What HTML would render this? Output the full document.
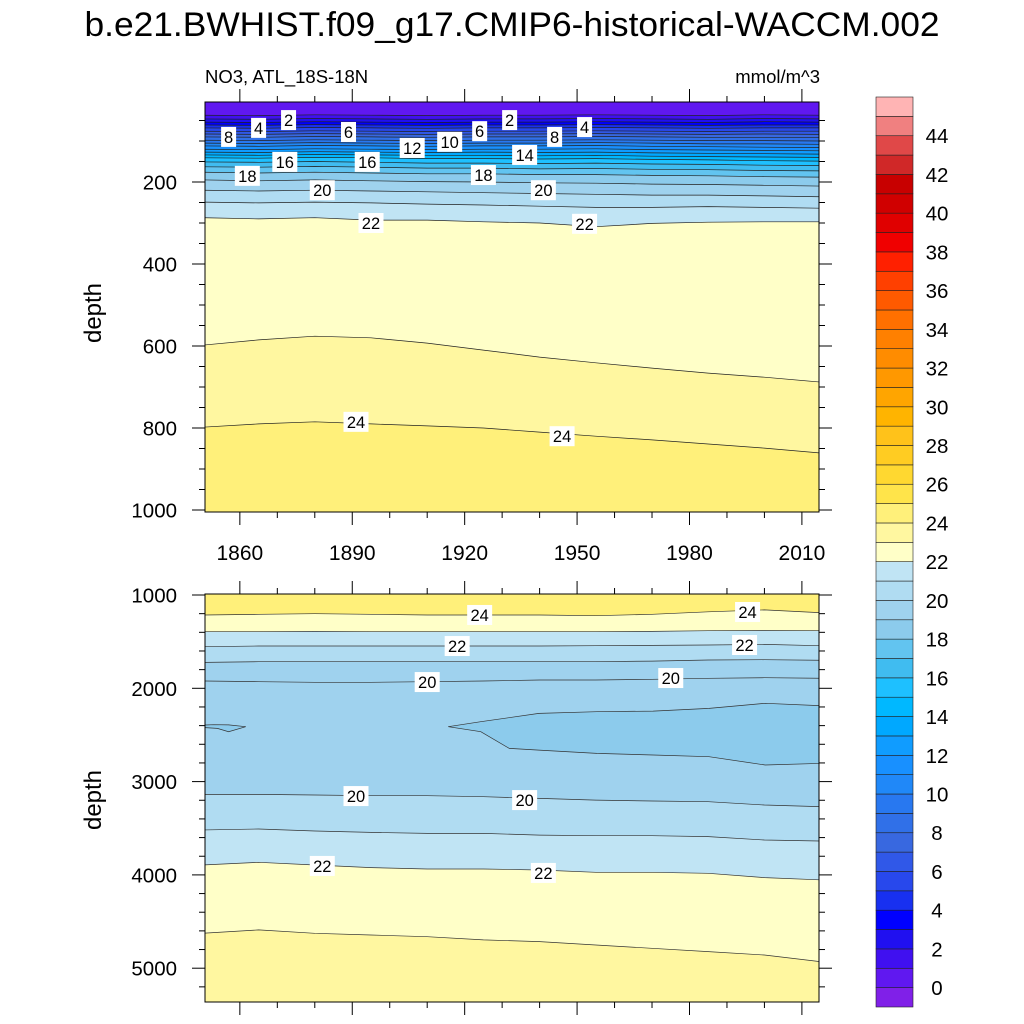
<!DOCTYPE html>
<html><head><meta charset="utf-8"><style>
html,body{margin:0;padding:0;background:#fff}
svg{display:block}
text{font-family:"Liberation Sans",sans-serif;fill:#000}
</style></head><body>
<svg id="chart" width="1024" height="1024" viewBox="0 0 1024 1024" xmlns="http://www.w3.org/2000/svg">
<text x="512" y="36" font-size="34" text-anchor="middle" textLength="855" lengthAdjust="spacingAndGlyphs">b.e21.BWHIST.f09_g17.CMIP6-historical-WACCM.002</text>
<text x="205" y="83" font-size="18.5">NO3, ATL_18S-18N</text>
<text x="820" y="83" font-size="18.5" text-anchor="end">mmol/m^3</text>
<text transform="translate(101,313) rotate(-90)" font-size="24" text-anchor="middle">depth</text>
<text transform="translate(101,800) rotate(-90)" font-size="24" text-anchor="middle">depth</text>
<defs>
<clipPath id="clipTop"><rect x="205" y="102" width="614" height="410"/></clipPath>
<clipPath id="clipBot"><rect x="205" y="594" width="614" height="408"/></clipPath>
</defs>
<g id="gTop" clip-path="url(#clipTop)"></g>
<g id="gBot" clip-path="url(#clipBot)"></g>
<g id="gAxes"></g>
<g id="gLabels"></g>
<g id="gBar"></g>
</svg>
<script>
// ---- data ----
const years = [1850,1865,1880,1895,1910,1925,1940,1955,1970,1985,2000,2015];
const xTicks = [1860,1890,1920,1950,1980,2010];
const topDepthTicks = [200,400,600,800,1000];
const botDepthTicks = [1000,2000,3000,4000,5000];
const barLabels = [0,2,4,6,8,10,12,14,16,18,20,22,24,26,28,30,32,34,36,38,40,42,44];
const palette = ["#8020e8","#6018f0","#4010f0","#2010f0","#0000ff","#1830f0","#2848ec","#3058e8","#3868e0","#3070e8","#2878f0","#2088f8","#1890ff","#109cff","#00a8ff","#00b8ff","#1ec0ff","#40bcf0","#62c4f0","#8ccbec","#9fd2ee","#b0dcf2","#c0e4f4","#ffffc8","#fff7a0","#fff07a","#ffe44a","#ffd830","#ffcc22","#ffc21a","#ffb400","#ffa500","#ff9800","#ff8c00","#ff8000","#ff7000","#ff5a00","#ff4000","#ff2000","#f00000","#e00000","#d00000","#c80000","#d02828","#e04848","#f08080","#ffb4b4"];
// top panel contour values and depths (m) at each year
const topLevels = [1,2,3,4,5,6,7,8,9,10,11,12,13,14,15,16,17,18,19,20,21,22,23,24];
const topDepths = [
[37,38,36,37,38,37,37,36,37,38,36,37],
[46,47,45,46,47,46,46,45,46,47,45,46],
[54,55,53,54,55,54,54,53,54,55,53,54],
[61,62,60,61,62,61,61,60,61,62,61,61],
[68,69,67,68,69,68,68,67,68,69,68,68],
[76,77,75,76,77,76,76,75,76,77,76,76],
[83,84,82,83,84,83,83,82,83,84,83,84],
[90,91,89,90,91,90,90,89,90,91,91,92],
[98,99,97,98,99,98,98,97,98,99,99,100],
[105,106,104,105,106,105,105,104,105,107,107,108],
[112,113,111,112,113,112,112,111,113,114,115,116],
[120,121,119,120,121,120,120,119,121,122,123,124],
[127,128,126,127,128,127,128,127,129,130,131,132],
[134,135,133,134,135,135,136,135,137,138,139,140],
[141,142,140,141,143,143,144,143,145,146,148,149],
[151,152,150,152,154,154,155,154,156,157,159,160],
[163,164,162,164,166,166,168,167,169,170,172,173],
[176,178,176,178,180,180,182,182,184,185,187,188],
[195,197,195,197,199,200,202,203,205,206,208,210],
[220,222,220,222,224,226,228,230,232,232,234,236],
[249,251,249,251,254,256,259,262,262,260,262,264],
[287,290,287,293,293,297,300,309,301,298,297,297],
[598,585,576,580,593,610,627,641,654,666,676,688],
[798,790,785,790,795,800,810,820,829,839,849,861]];
// bottom panel: contour value, band value above it, depths
const botLevels = [24,23,22,21,20,20,21,22,23];
const botAbove  = [24,22,21,20,19,19,20,21,22];
const botDepths = [
[1214,1207,1200,1207,1214,1214,1214,1222,1207,1180,1160,1190],
[1393,1393,1390,1393,1393,1393,1393,1393,1390,1383,1380,1383],
[1554,1547,1547,1547,1547,1547,1547,1543,1540,1536,1529,1543],
[1722,1715,1715,1715,1715,1715,1715,1715,1708,1697,1693,1700],
[1922,1929,1936,1936,1929,1922,1911,1911,1904,1893,1886,1893],
[3137,3137,3144,3151,3151,3162,3180,3198,3208,3215,3251,3269],
[3519,3508,3530,3544,3555,3555,3573,3580,3580,3590,3626,3637],
[3894,3865,3894,3922,3937,3937,3947,3972,3972,3983,4029,4054],
[4626,4590,4626,4644,4662,4697,4715,4751,4787,4822,4858,4930]];
const botBaseValue = 23;
// closed 19 contours (year, depth)
const blobBigYears = [1915.6,1924.3,1939.8,1955.3,1970.3,1985.2,2000.2,2015,2015,2000.2,1985.2,1970.3,1955.3,1939.8,1931.9,1924.3];
const blobBigDepths = [2412,2358,2269,2251,2244,2215,2161,2186,2805,2822,2733,2715,2698,2662,2644,2465];
const blobSmallYears = [1850,1853,1857,1861.6,1857,1854,1850];
const blobSmallDepths = [2394,2390,2392,2412,2465,2430,2420];
// contour labels
const topLabelText = ["2","2","4","4","6","6","8","8","12","10","14","16","16","18","18","20","20","22","22","24","24"];
const topLabelYear = [1873,1932,1865,1952,1889,1924,1857,1944,1906,1916,1936,1872,1894,1862,1925,1882,1941,1895,1952,1891,1946];
const topLabelDepth = [49,49,68,66,78,76,90,90,117,102,134,151,151,185,183,220,220,300,302,785,820];
const botLabelText = ["24","24","22","22","20","20","20","20","22","22"];
const botLabelYear = [1924,1995.5,1918,1994.7,1910,1975,1891,1936,1882,1941];
const botLabelDepth = [1214,1182,1547,1536,1933,1890,3155,3198,3904,3979];

// ---- scales ----
const NS="http://www.w3.org/2000/svg";
const X0=205,X1=819;
function xs(yr){return X0+(yr-1850.7)*3.747;}
function yTop(d){return 100+d*0.41;}
function yBot(d){return 595+(d-1000)*0.0933;}
function col(v){return palette[Math.max(0,Math.min(palette.length-1,v+1))];}
function mk(tag,attrs,parent){const e=document.createElementNS(NS,tag);for(const k in attrs)e.setAttribute(k,attrs[k]);parent.appendChild(e);return e;}
function linePts(ds,ys){return years.map((yr,i)=>xs(yr).toFixed(1)+","+ys(ds[i]).toFixed(1));}

// top panel
const gT=document.getElementById('gTop');
let r=mk('rect',{x:X0,y:102,width:614,height:410,fill:col(24)},gT);


for(let i=topLevels.length-1;i>=0;i--){
  const pts=linePts(topDepths[i],yTop);
  const p=mk('polygon',{points:"150,90 "+pts.join(" ")+" 880,90",fill:col(topLevels[i]-1)},gT);
  
  
}
for(let i=0;i<topLevels.length;i++){
  const l=mk('polyline',{points:linePts(topDepths[i],yTop).join(" "),fill:"none",stroke:"#222","stroke-width":0.7},gT);
  
  
}
// bottom panel
const gB=document.getElementById('gBot');
r=mk('rect',{x:X0,y:594,width:614,height:408,fill:col(botBaseValue)},gB);


for(let i=botLevels.length-1;i>=0;i--){
  const pts=linePts(botDepths[i],yBot);
  const p=mk('polygon',{points:"150,580 "+pts.join(" ")+" 880,580",fill:col(botAbove[i])},gB);
  
  
}
function blob(yrs,ds,name){
  const pts=yrs.map((y,i)=>xs(y).toFixed(1)+","+yBot(ds[i]).toFixed(1)).join(" ");
  const p=mk('polygon',{points:pts,fill:col(18),stroke:"#333","stroke-width":0.7},gB);
  
  
}
blob(blobBigYears,blobBigDepths,'contour-19-east');
blob(blobSmallYears,blobSmallDepths,'contour-19-west');
for(let i=0;i<botLevels.length;i++){
  const l=mk('polyline',{points:linePts(botDepths[i],yBot).join(" "),fill:"none",stroke:"#333","stroke-width":0.7},gB);
  
  
}

// axes
const gA=document.getElementById('gAxes');
function frame(y0,y1,name){
  const f=mk('rect',{x:X0,y:y0,width:X1-X0,height:y1-y0,fill:"none",stroke:"#000","stroke-width":1},gA);
  
  
}
frame(102,512,'top-panel-frame');frame(594,1002,'bottom-panel-frame');
function tick(x1,y1,x2,y2){const t=mk('line',{x1:x1,y1:y1,x2:x2,y2:y2,stroke:"#000","stroke-width":1},gA);}
for(let yr=1860;yr<=2010;yr+=10){
  const x=xs(yr), major=xTicks.includes(yr), L=major?13:6;
  tick(x,102,x,102-L);tick(x,512,x,512+L);tick(x,594,x,594-L);tick(x,1002,x,1002+L);
}
xTicks.forEach(yr=>{
  const t=mk('text',{x:xs(yr),y:560,"font-size":21,"text-anchor":"middle"},gA);t.textContent=yr;
  
  
});
for(let d=50;d<=1000;d+=50){
  const y=yTop(d), major=topDepthTicks.includes(d), L=major?13:6;
  tick(X0,y,X0-L,y);tick(X1,y,X1+L,y);
}
topDepthTicks.forEach(d=>{
  const t=mk('text',{x:177,y:yTop(d)+7.5,"font-size":20.5,"text-anchor":"end"},gA);t.textContent=d;
  
  
});
for(let d=1000;d<=5300;d+=200){
  const y=yBot(d), major=botDepthTicks.includes(d), L=major?13:6;
  tick(X0,y,X0-L,y);tick(X1,y,X1+L,y);
}
botDepthTicks.forEach(d=>{
  const t=mk('text',{x:177,y:yBot(d)+7.5,"font-size":20.5,"text-anchor":"end"},gA);t.textContent=d;
  
  
});

// contour labels
const gL=document.getElementById('gLabels');
function clabel(txt,x,y){
  const w=txt.length*10+5;
  const rc=mk('rect',{x:x-w/2,y:y-10,width:w,height:20,fill:"#fff"},gL);
  
  
  const t=mk('text',{x:x,y:y+6,"font-size":16.5,"text-anchor":"middle"},gL);t.textContent=txt;
  
  
}
topLabelText.forEach((s,i)=>clabel(s,xs(topLabelYear[i]),yTop(topLabelDepth[i])));
botLabelText.forEach((s,i)=>clabel(s,xs(botLabelYear[i]),yBot(botLabelDepth[i])));

// colorbar
const gC=document.getElementById('gBar');
const BX=876,BW=37,BTOP=97,BBOT=1007,BH=(BBOT-BTOP)/palette.length;
palette.forEach((c,i)=>{
  const y=BBOT-(i+1)*BH;
  const b=mk('rect',{x:BX,y:y,width:BW,height:BH,fill:c,stroke:"#222","stroke-width":0.6},gC);
  
  
});
barLabels.forEach(v=>{
  const y=BBOT-(v+1)*BH;
  const t=mk('text',{x:937,y:y+7.5,"font-size":20.5,"text-anchor":"middle"},gC);t.textContent=v;
  
  
});
</script>
</body></html>
